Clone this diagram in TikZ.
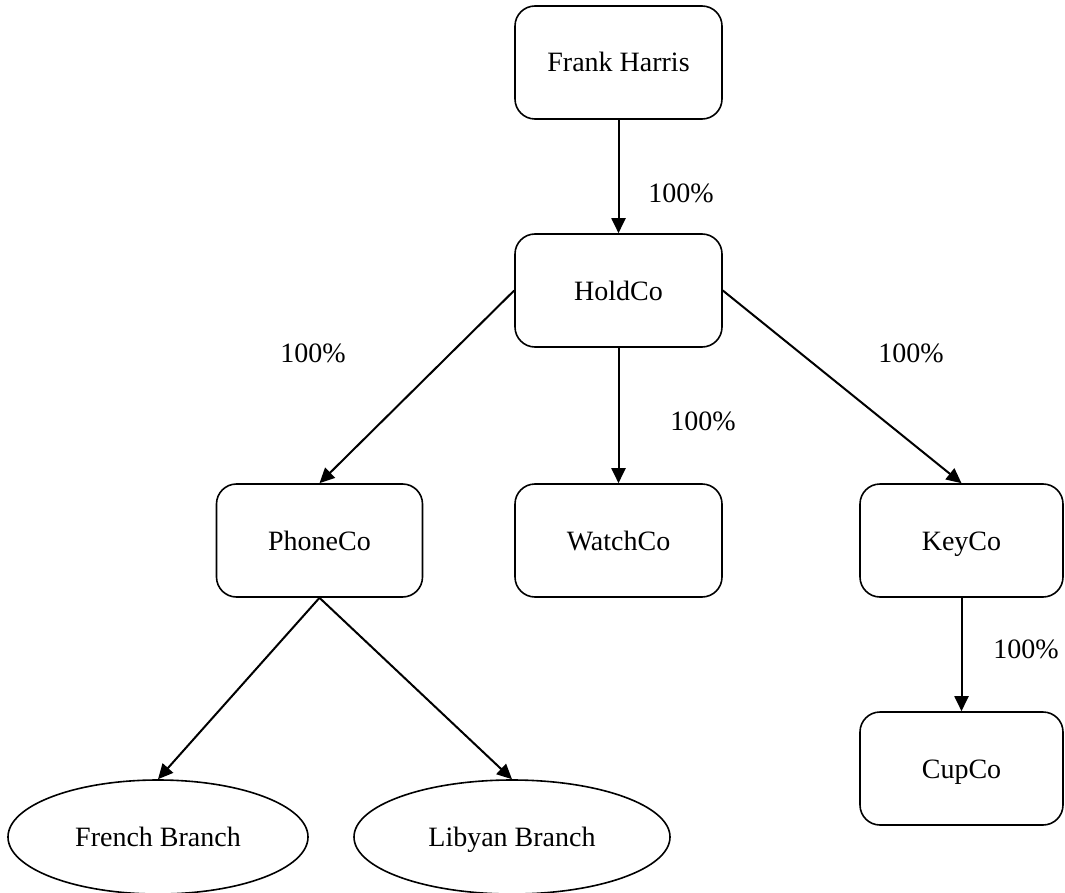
\documentclass[tikz,border=0pt]{standalone}
\usepackage{fontspec}
\setmainfont{Liberation Serif}
\usetikzlibrary{arrows.meta,shapes.geometric}
\tikzset{
  box/.style={draw, line width=1.6pt, rounded corners=20pt, minimum width=207pt, minimum height=113pt, inner sep=0pt, text height=19pt, text depth=0pt, font=\fontsize{28}{32}\selectfont},
  oval/.style={draw, ellipse, line width=1.6pt, minimum height=114pt, inner sep=0pt, text height=19pt, text depth=0pt, font=\fontsize{28}{32}\selectfont},
  lbl/.style={font=\fontsize{28}{32}\selectfont, inner sep=0pt},
  conn/.style={line width=2pt, -{Triangle[length=15pt,width=14pt]}},
}
\begin{document}
\begin{tikzpicture}[x=1pt,y=-1pt]
\useasboundingbox (0,0) rectangle (1065,893);
\node[box] (frank) at (618.5,62.5) {Frank Harris};
\node[box] (hold) at (618.5,290.5) {HoldCo};
\node[box, minimum width=206pt] (phone) at (319.5,540.5) {PhoneCo};
\node[box] (watch) at (618.5,540.5) {WatchCo};
\node[box, minimum width=203pt] (key) at (961.5,540.5) {KeyCo};
\node[box, minimum width=203pt] (cup) at (961.5,768.5) {CupCo};
\node[oval, minimum width=300pt] (french) at (158,837) {French Branch};
\node[oval, minimum width=316pt] (libyan) at (512,837) {Libyan Branch};
\draw[conn] (frank.south) -- (hold.north);
\draw[conn] (hold.west) -- (phone.north);
\draw[conn] (hold.south) -- (watch.north);
\draw[conn] (hold.east) -- (key.north);
\draw[conn] (key.south) -- (cup.north);
\draw[conn] (phone.south) -- (french.north);
\draw[conn] (phone.south) -- (libyan.north);
\node[lbl] (l1) at (681,193) {100\%};
\node[lbl] (l2) at (313,353) {100\%};
\node[lbl] (l3) at (911,353) {100\%};
\node[lbl] (l4) at (703,421) {100\%};
\node[lbl] (l5) at (1026,649) {100\%};
\end{tikzpicture}
\end{document}
